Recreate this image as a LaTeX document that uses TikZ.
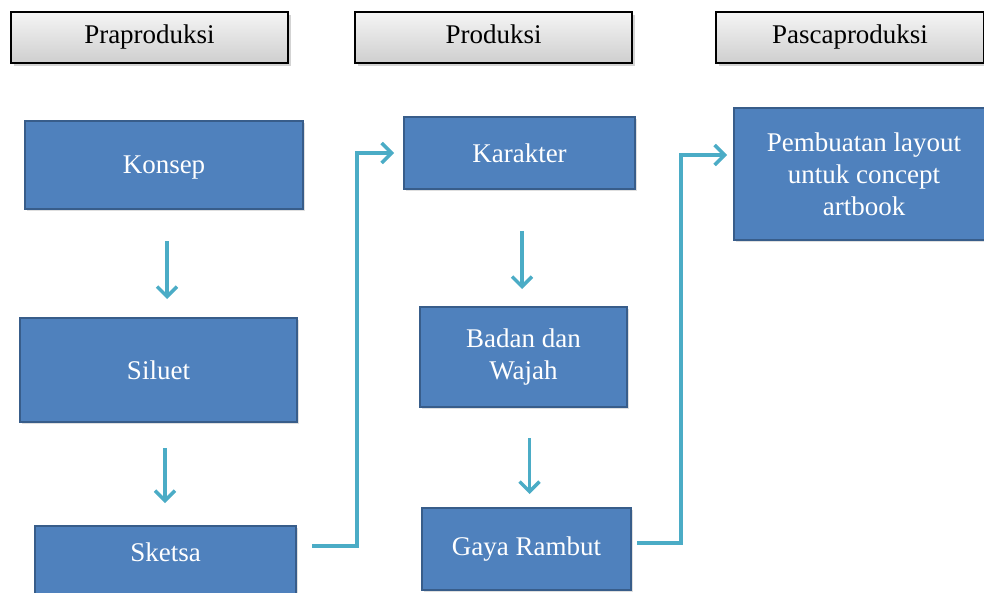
\documentclass[tikz,border=0pt]{standalone}
\usepackage{fontspec}
\setmainfont{Liberation Serif}
\usetikzlibrary{arrows.meta,shadows}
\definecolor{boxblue}{HTML}{4F81BD}
\definecolor{boxedge}{HTML}{385D8A}
\definecolor{flowteal}{HTML}{4BACC6}
\begin{document}
\begin{tikzpicture}[x=0.5pt,y=-0.5pt,
    header/.style={draw=black,line width=1pt,top color=gray!8,bottom color=gray!38,
      minimum height=25.5pt,font=\fontsize{13.5}{16}\selectfont,text height=9.5pt,text depth=3pt,
      drop shadow={shadow xshift=1.5pt,shadow yshift=-1.5pt,opacity=0.35}},
    box/.style={draw=boxedge,line width=1pt,fill=boxblue,text=white,align=center,
      font=\fontsize{13.5}{16}\selectfont,
      drop shadow={shadow xshift=1pt,shadow yshift=-1pt,opacity=0.25}},
    flow/.style={flowteal,line width=1.75pt,-{Straight Barb[length=5pt,width=10pt]}}]
  \useasboundingbox (0,0) rectangle (984,593);
  \clip (0,0) rectangle (984,593);
  \node[header,minimum width=138.5pt] (pra) at (149.5,37.5) {Praproduksi};
  \node[header,minimum width=138.5pt] (pro) at (493.5,37.5) {Produksi};
  \node[header,minimum width=134pt] (pasca) at (850,37.5) {Pascaproduksi};

  \node[box,minimum width=139pt,minimum height=44pt,text height=9.5pt,text depth=0.5pt] (konsep) at (164,165) {Konsep};
  \node[box,minimum width=138.5pt,minimum height=52pt] (siluet) at (158.5,370) {Siluet};
  \node[box,minimum width=130.5pt,minimum height=50pt,anchor=north,text depth=24pt] (sketsa) at (165.5,525) {Sketsa};
  \node[box,minimum width=115.5pt,minimum height=36pt] (karakter) at (519.5,153) {Karakter};
  \node[box,minimum width=103.5pt,minimum height=50pt] (badan) at (523.5,357) {Badan dan\\Wajah};
  \node[box,minimum width=104.5pt,minimum height=41pt] (gaya) at (526.5,549) {Gaya Rambut};
  \node[box,minimum width=130pt,minimum height=66pt] (layout) at (864,174) {Pembuatan layout\\untuk concept\\artbook};

  \coordinate (bend1) at (357,0);
  \coordinate (bend2) at (681,0);

  \draw[flow,shorten <=15.5pt,shorten >=9pt] ([xshift=1.5pt]konsep.south) -- ([xshift=1.5pt]konsep.south |- siluet.north);
  \draw[flow,shorten <=12.5pt,shorten >=11pt] ([xshift=3.25pt]siluet.south) -- ([xshift=3.25pt]siluet.south |- sketsa.north);
  \draw[flow,shorten <=20.5pt,shorten >=8.5pt] ([xshift=1.25pt]karakter.south) -- ([xshift=1.25pt]karakter.south |- badan.north);
  \draw[flow,shorten <=15pt,shorten >=6.5pt] ([xshift=3pt]badan.south) -- ([xshift=3pt]badan.south |- gaya.north);
  \draw[flow,shorten <=7.5pt,shorten >=4.5pt] ([yshift=15pt]sketsa.east) -| (bend1 |- karakter.west) -- (karakter.west);
  \draw[flow,shorten <=2.5pt,shorten >=3pt] ([yshift=3pt]gaya.east) -| (bend2 |- 0,155) -- ([yshift=9.5pt]layout.west);
\end{tikzpicture}
\end{document}
